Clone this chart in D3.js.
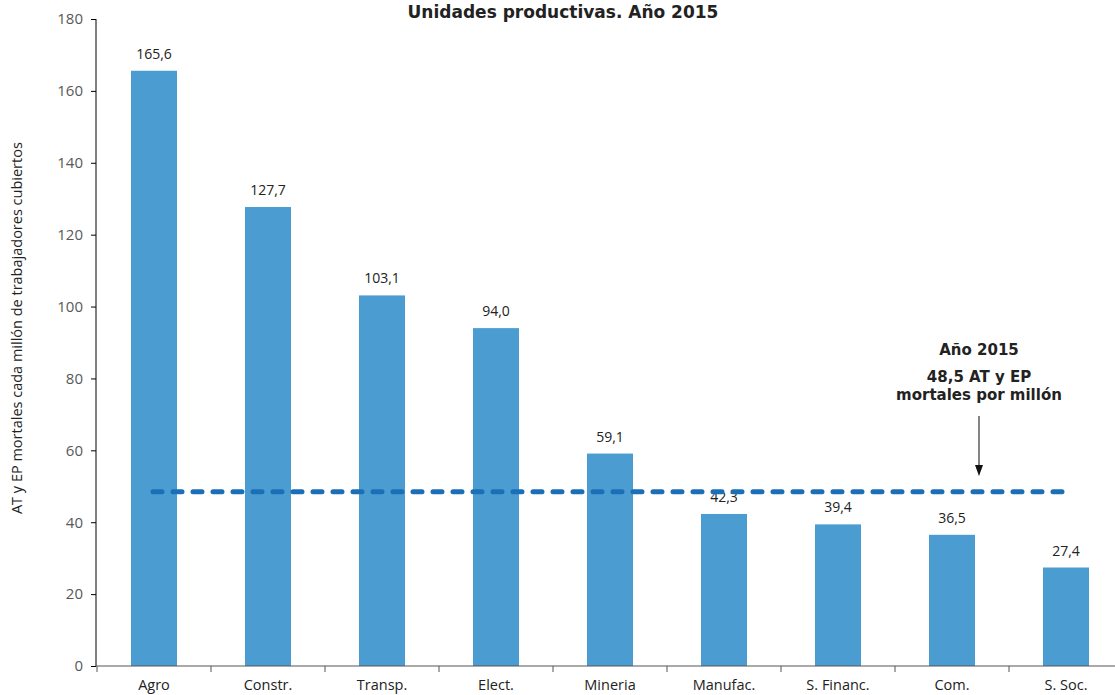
<!DOCTYPE html>
<html><head><meta charset="utf-8">
<script src="https://cdn.jsdelivr.net/npm/d3@7"></script>
<style>body{margin:0;background:#fff}svg{display:block}</style>
</head><body>
<svg id="c" width="1115" height="695"></svg>
<script>
const categories = ["Agro","Constr.","Transp.","Elect.","Mineria","Manufac.","S. Financ.","Com.","S. Soc."];
const values = [165.6,127.7,103.1,94.0,59.1,42.3,39.4,36.5,27.4];
const average = 48.5;
const yTicks = [0,20,40,60,80,100,120,140,160,180];
const title = "Unidades productivas. Año 2015";
const yLabel = "AT y EP mortales cada millón de trabajadores cubiertos";
const noteLines = ["Año 2015","48,5 AT y EP","mortales por millón"];

const svg = d3.select("#c");
const xb = d3.scaleBand().domain(categories).range([97,1123]);
const y = d3.scaleLinear().domain([0,180]).range([666,19]);
const fmt = v => d3.format(".1f")(v).replace(".", ",");
const font = "'Open Sans', 'Liberation Sans', sans-serif";
const bf = "'DejaVu Sans', sans-serif";

svg.append("text").attr("x",563).attr("y",18).attr("text-anchor","middle")
  .attr("font-family",bf).attr("font-weight","bold").attr("font-size",17)
  .attr("fill","#222").text(title);

// bars
svg.selectAll("rect.bar").data(values).join("rect").attr("class","bar")
  .attr("x",(d,i)=>xb(categories[i]) + xb.bandwidth()/2 - 23)
  .attr("width",46)
  .attr("y",d=>y(d)).attr("height",d=>y(0)-y(d)).attr("fill","#4b9cd1");

svg.selectAll("text.val").data(values).join("text").attr("class","val")
  .attr("x",(d,i)=>xb(categories[i]) + xb.bandwidth()/2)
  .attr("y",d=>y(d)-12).attr("text-anchor","middle")
  .attr("font-family",font).attr("font-size",14).attr("fill","#222").text(fmt);

// y axis
const ya = svg.append("g").attr("transform","translate(96,0)")
  .call(d3.axisLeft(y).tickValues(yTicks).tickSize(5).tickFormat(d3.format("d")));
ya.select(".domain").attr("stroke","#000").attr("d","M0,"+y(180)+"V"+y(0));
ya.selectAll(".tick line").attr("stroke","#000");
ya.selectAll("text").attr("font-family",font).attr("font-size",15).attr("fill","#595959").attr("dx",-5);

// x axis
const xa = svg.append("g").attr("transform","translate(0,666)")
  .call(d3.axisBottom(xb).tickSize(0).tickFormat(d=>d));
xa.select(".domain").attr("stroke","#555").attr("d","M96,0H1115");
xa.selectAll("text").attr("font-family",font).attr("font-size",14.5).attr("fill","#222").attr("y",24).attr("dy",0);
svg.append("g").selectAll("line").data(categories).join("line")
  .attr("x1",d=>xb(d)).attr("x2",d=>xb(d)).attr("y1",666).attr("y2",672).attr("stroke","#555");

// y label
svg.append("text").attr("transform","translate(22,"+y(94)+") rotate(-90)")
  .attr("text-anchor","middle").attr("font-family",font).attr("font-size",14.5).attr("fill","#222")
  .text(yLabel);

// average line
svg.append("line").attr("x1",153).attr("x2",1066).attr("y1",y(average)).attr("y2",y(average))
  .attr("stroke","#1b6fb6").attr("stroke-width",5).attr("stroke-linecap","round").attr("stroke-dasharray","9,11");

// annotation
[355,382,400].forEach((yy,i)=>{
  svg.append("text").attr("x",979).attr("y",yy).attr("text-anchor","middle")
    .attr("font-family",bf).attr("font-weight","bold").attr("font-size",15).attr("fill","#222").text(noteLines[i]);
});
svg.append("line").attr("x1",979).attr("x2",979).attr("y1",416).attr("y2",468)
  .attr("stroke","#333").attr("stroke-width",1.2);
svg.append("path").attr("d","M975,465L983,465L979,476Z").attr("fill","#111");
</script>
</body></html>
